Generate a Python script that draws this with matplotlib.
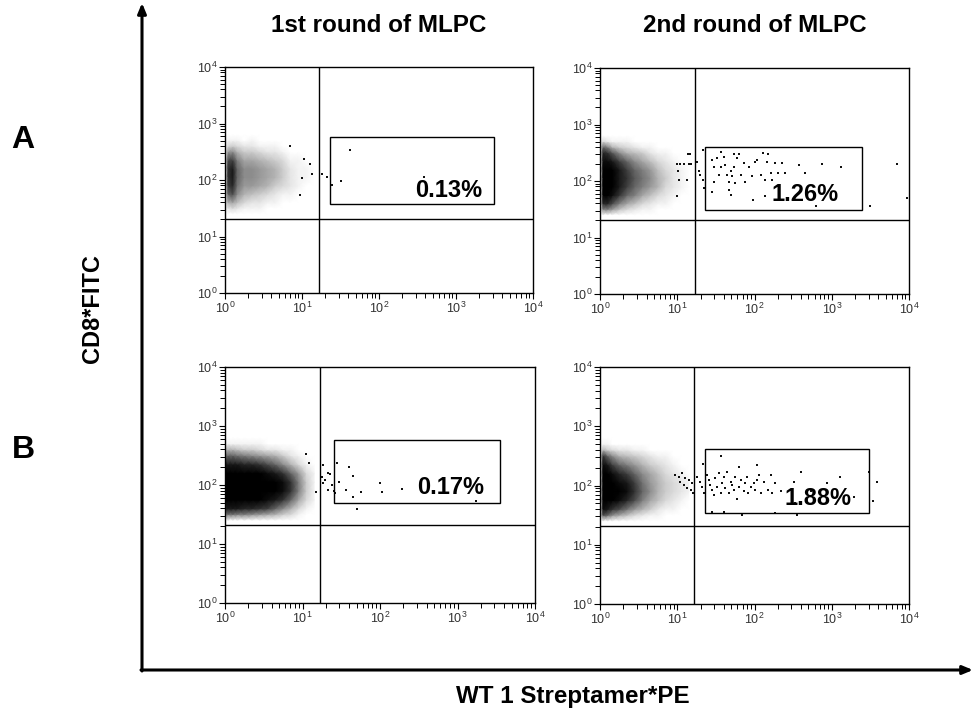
import numpy as np
import matplotlib.pyplot as plt
from matplotlib.patches import Rectangle
from matplotlib.ticker import LogLocator, LogFormatterSciNotation, NullFormatter

plt.rcParams['font.family'] = ['Liberation Sans', 'DejaVu Sans']

# ---- data (all positions in log10 units of the flow channels) ----
col_titles = ["1st round of MLPC", "2nd round of MLPC"]
row_labels = ["A", "B"]
x_label = "WT 1 Streptamer*PE"
y_label = "CD8*FITC"
gate_pct = [["0.13%", "1.26%"], ["0.17%", "1.88%"]]

# quadrant marker lines
quad_x = [[1.22, 1.23], [1.23, 1.22]]
quad_y = [[1.31, 1.31], [1.32, 1.32]]
# gate boxes: x0, x1, y0, y1
gates = [[[1.36, 3.49, 1.575, 2.76], [1.36, 3.39, 1.49, 2.60]],
         [[1.41, 3.55, 1.69, 2.76], [1.36, 3.48, 1.54, 2.62]]]
# where the percentage sits (right end, baseline)
pct_pos = [[[3.34, 1.70], [3.09, 1.65]],
           [[3.34, 1.85], [3.26, 1.67]]]

# density of the main CD8+ population (0 = empty, 1 = solid black)
grid_x = [0.0, 0.04, 0.1, 0.16, 0.25, 0.35, 0.45, 0.55, 0.65, 0.75, 0.85, 0.95, 1.05, 1.15]
grid_y = [1.4, 1.5, 1.6, 1.75, 1.9, 2.05, 2.2, 2.35, 2.5, 2.6, 2.7, 2.8]

dens_a1 = [
    [0, 0, 0, 0, 0, 0, 0, 0, 0, 0, 0, 0, 0, 0],
    [0, .1, .15, .1, .05, .05, .05, 0, 0, 0, 0, 0, 0, 0],
    [0, .3, .35, .25, .15, .1, .1, .05, .05, 0, 0, 0, 0, 0],
    [0, .6, .7, .45, .3, .25, .2, .15, .1, .05, .05, 0, 0, 0],
    [0, .75, .85, .55, .4, .4, .35, .3, .2, .15, .1, .05, 0, 0],
    [0, .8, .9, .6, .45, .45, .4, .35, .3, .2, .1, .05, .05, 0],
    [0, .8, .9, .6, .45, .45, .4, .35, .3, .2, .1, .05, .05, 0],
    [0, .7, .75, .5, .35, .35, .3, .25, .2, .15, .05, .05, 0, 0],
    [0, .4, .45, .3, .2, .2, .15, .1, .1, .05, 0, 0, 0, 0],
    [0, .15, .2, .15, .1, .1, .05, .05, .05, 0, 0, 0, 0, 0],
    [0, .05, .05, .05, 0, .05, 0, 0, 0, 0, 0, 0, 0, 0],
    [0, 0, 0, 0, 0, 0, 0, 0, 0, 0, 0, 0, 0, 0],
]
dens_a2 = [
    [0, 0, 0, 0, 0, 0, 0, 0, 0, 0, 0, 0, 0, 0],
    [0, .5, .5, .4, .25, .15, .1, .05, .05, 0, 0, 0, 0, 0],
    [0, .85, .85, .7, .5, .35, .25, .15, .1, .05, .05, 0, 0, 0],
    [0, 1, 1, .95, .8, .6, .5, .35, .25, .15, .1, .05, 0, 0],
    [0, 1, 1, 1, .9, .75, .6, .5, .4, .3, .15, .1, .05, 0],
    [0, 1, 1, 1, .9, .8, .65, .55, .45, .3, .2, .1, .05, 0],
    [0, 1, 1, 1, .9, .75, .6, .5, .4, .25, .15, .1, .05, 0],
    [0, .95, .95, .9, .75, .6, .45, .35, .25, .15, .1, .05, 0, 0],
    [0, .85, .8, .65, .45, .3, .25, .2, .1, .05, .05, 0, 0, 0],
    [0, .6, .5, .3, .2, .15, .1, .05, .05, 0, 0, 0, 0, 0],
    [0, .15, .1, .05, .05, .05, 0, 0, 0, 0, 0, 0, 0, 0],
    [0, 0, 0, 0, 0, 0, 0, 0, 0, 0, 0, 0, 0, 0],
]
dens_b1 = [
    [0, 0, 0, 0, 0, 0, 0, 0, 0, 0, 0, 0, 0, 0],
    [.5, .55, .55, .5, .5, .45, .4, .35, .3, .2, .15, .05, 0, 0],
    [.85, .9, .9, .9, .85, .85, .8, .75, .6, .45, .3, .15, .05, 0],
    [1, 1, 1, 1, 1, 1, 1, .95, .9, .8, .6, .35, .15, .05],
    [1, 1, 1, 1, 1, 1, 1, 1, 1, .95, .8, .5, .2, .05],
    [1, 1, 1, 1, 1, 1, 1, 1, 1, .95, .8, .5, .2, .05],
    [1, 1, 1, 1, 1, 1, 1, .95, .9, .8, .6, .4, .15, .05],
    [.9, .9, .9, .9, .85, .85, .8, .7, .6, .45, .3, .15, .05, 0],
    [.55, .6, .6, .55, .5, .45, .4, .35, .3, .2, .1, .05, 0, 0],
    [.25, .3, .3, .25, .2, .2, .15, .1, .1, .05, .05, 0, 0, 0],
    [.05, .05, .05, .05, .05, .05, .05, 0, 0, 0, 0, 0, 0, 0],
    [0, 0, 0, 0, 0, 0, 0, 0, 0, 0, 0, 0, 0, 0],
]
dens_b2 = [
    [0, 0, 0, 0, 0, 0, 0, 0, 0, 0, 0, 0, 0, 0],
    [0, .7, .6, .45, .35, .25, .15, .1, .05, .05, 0, 0, 0, 0],
    [0, .95, .9, .8, .7, .55, .4, .3, .2, .1, .05, .05, 0, 0],
    [0, 1, 1, 1, .95, .85, .7, .5, .35, .25, .15, .1, .05, 0],
    [0, 1, 1, 1, 1, .95, .8, .6, .45, .3, .2, .15, .1, .05],
    [0, 1, 1, 1, .95, .9, .75, .55, .4, .3, .2, .15, .1, .05],
    [0, 1, 1, .95, .85, .75, .6, .45, .35, .25, .15, .1, .05, 0],
    [0, .95, .9, .75, .6, .5, .4, .3, .2, .15, .1, .05, 0, 0],
    [0, .8, .6, .45, .3, .25, .2, .15, .1, .05, .05, 0, 0, 0],
    [0, .3, .2, .15, .1, .1, .05, .05, 0, 0, 0, 0, 0, 0],
    [0, .05, .05, 0, 0, 0, 0, 0, 0, 0, 0, 0, 0, 0],
    [0, 0, 0, 0, 0, 0, 0, 0, 0, 0, 0, 0, 0, 0],
]

# single events outside the main population
tail_a1_x = [1.62, 1.51, 1.39, 1.325, 1.26, 1.13, 1.11, 2.59, 1.02, 0.97, 1.0, 0.85]
tail_a1_y = [2.53, 1.98, 1.92, 2.05, 2.10, 2.10, 2.28, 2.06, 2.37, 1.73, 2.04, 2.61]

tail_a2_x = [0.997, 1.04, 1.09, 1.15, 1.01, 1.02, 0.997, 1.13, 1.17, 1.14, 1.18, 1.26,
             1.28, 1.30, 1.33, 1.33, 1.34, 1.45, 1.47, 1.51, 1.56, 1.60, 1.48, 1.45,
             1.54, 1.57, 1.62, 1.64, 1.67, 1.69, 1.71, 1.73, 1.67, 1.69, 1.73, 1.77,
             1.75, 1.80, 1.82, 1.86, 1.88, 1.93, 1.97, 1.98, 2.01, 2.03, 2.08, 2.11,
             2.13, 2.16, 2.18, 2.21, 2.23, 2.27, 2.31, 2.36, 2.40, 2.57, 2.66, 2.79,
             2.87, 3.12, 3.50, 3.85, 3.97, 2.14]
tail_a2_y = [2.30, 2.30, 2.30, 2.30, 2.18, 2.02, 1.74, 2.02, 2.48, 2.47, 2.30, 2.33,
             2.17, 2.11, 2.54, 2.02, 1.87, 2.37, 2.25, 2.40, 2.52, 2.43, 1.99, 1.81,
             2.11, 2.25, 2.28, 2.11, 1.99, 2.17, 2.08, 2.25, 1.84, 1.75, 2.47, 2.40,
             1.96, 2.47, 2.11, 2.31, 1.99, 2.25, 2.08, 1.66, 2.34, 2.37, 2.11, 2.49,
             2.02, 2.34, 2.47, 2.14, 2.02, 2.31, 2.14, 2.31, 2.14, 2.28, 2.15, 1.55,
             2.30, 2.24, 1.55, 2.30, 1.70, 1.74]

tail_b1_x = [1.27, 1.33, 1.35, 1.25, 1.29, 1.27, 1.38, 1.45, 1.47, 1.33, 1.40, 1.42,
             1.56, 1.60, 1.65, 1.75, 1.65, 1.70, 2.00, 2.03, 2.28, 3.24, 1.04, 1.09, 1.18]
tail_b1_y = [2.34, 2.21, 2.18, 2.14, 2.08, 2.03, 2.00, 2.38, 2.05, 1.92, 1.89, 1.86,
             1.92, 2.30, 2.15, 1.88, 1.79, 1.59, 2.04, 1.88, 1.94, 1.73, 2.53, 2.37, 1.88]

tail_b2_x = [0.975, 1.02, 1.06, 1.10, 1.04, 1.09, 1.15, 1.13, 1.18, 1.21, 1.19, 1.26,
             1.30, 1.33, 1.32, 1.34, 1.39, 1.41, 1.43, 1.45, 1.47, 1.49, 1.51, 1.54,
             1.56, 1.58, 1.60, 1.62, 1.64, 1.67, 1.69, 1.71, 1.73, 1.75, 1.77, 1.80,
             1.80, 1.82, 1.86, 1.88, 1.90, 1.92, 1.95, 1.99, 2.01, 2.03, 2.06, 2.08,
             2.12, 2.17, 2.23, 2.27, 2.34, 2.51, 2.60, 2.53, 2.73, 2.94, 3.11, 3.29,
             3.53, 3.59, 3.48, 2.27, 1.84, 1.60, 1.45, 2.55, 1.56, 2.03, 2.21]
tail_b2_y = [2.18, 2.15, 2.21, 2.12, 2.06, 2.01, 2.09, 1.95, 1.92, 1.87, 2.04, 2.15,
             2.06, 2.37, 1.98, 1.87, 2.18, 2.09, 2.01, 1.92, 1.84, 2.12, 1.98, 2.21,
             1.87, 2.04, 2.15, 1.95, 2.23, 1.87, 2.06, 2.01, 1.92, 2.15, 1.78, 2.32,
             1.98, 2.09, 1.90, 2.04, 2.15, 1.87, 1.98, 2.04, 1.92, 2.09, 2.18, 1.87,
             2.06, 1.92, 1.87, 2.04, 1.90, 2.06, 2.23, 1.70, 1.90, 2.04, 2.14, 1.81,
             1.73, 2.06, 2.22, 1.53, 1.50, 1.56, 1.56, 1.50, 2.50, 2.35, 2.18]

dens = [[dens_a1, dens_a2], [dens_b1, dens_b2]]
tails = [[(tail_a1_x, tail_a1_y), (tail_a2_x, tail_a2_y)],
         [(tail_b1_x, tail_b1_y), (tail_b2_x, tail_b2_y)]]

# ---- layout (figure pixels: left, top, right, bottom) ----
W, H = 974, 711
panel_px = [[(225, 67, 533, 293), (600, 68, 909, 294)],
            [(225, 367, 535, 603), (600, 367, 909, 604)]]

fig = plt.figure(figsize=(W / 100, H / 100), dpi=100)

for r in range(2):
    for c in range(2):
        l, t, rr, b = panel_px[r][c]
        ax = fig.add_axes([l / W, 1 - b / H, (rr - l) / W, (b - t) / H])
        ax.set_xscale('log')
        ax.set_yscale('log')
        ax.set_xlim(1, 1e4)
        ax.set_ylim(1, 1e4)

        gx = 10 ** np.array(grid_x)
        gy = 10 ** np.array(grid_y)
        ax.pcolormesh(gx, gy, np.array(dens[r][c]), shading='gouraud',
                      cmap='gray_r', vmin=0, vmax=1, zorder=1)

        tx, ty = tails[r][c]
        ax.scatter(10 ** np.array(tx), 10 ** np.array(ty), s=2.2, marker='s',
                   color='#111111', linewidths=0, zorder=2)

        ax.axvline(10 ** quad_x[r][c], color='black', lw=1.0, zorder=3)
        ax.axhline(10 ** quad_y[r][c], color='black', lw=1.0, zorder=3)

        x0, x1, y0, y1 = gates[r][c]
        ax.add_patch(Rectangle((10 ** x0, 10 ** y0), 10 ** x1 - 10 ** x0,
                               10 ** y1 - 10 ** y0, fill=False,
                               edgecolor='black', lw=1.0, zorder=3))
        px, py = pct_pos[r][c]
        ax.text(10 ** px, 10 ** py, gate_pct[r][c], ha='right', va='baseline',
                fontsize=17, fontweight='bold', zorder=4)

        for axis in (ax.xaxis, ax.yaxis):
            axis.set_major_locator(LogLocator(base=10, numticks=10))
            axis.set_minor_locator(LogLocator(base=10, subs=np.arange(2, 10), numticks=10))
            axis.set_major_formatter(LogFormatterSciNotation())
            axis.set_minor_formatter(NullFormatter())
        ax.tick_params(which='major', direction='out', length=4, width=0.8,
                       labelsize=9, labelcolor='#333333', pad=1.5)
        ax.tick_params(which='minor', direction='out', length=3.5, width=0.7)
        for sp in ax.spines.values():
            sp.set_linewidth(1.0)

# column titles and row letters
for c, title in enumerate(col_titles):
    l, t, rr, b = panel_px[0][c]
    fig.text((l + rr) / 2 / W, 1 - 25 / H, title, ha='center', va='center',
             fontsize=17.5, fontweight='bold')
for r, lab in enumerate(row_labels):
    fig.text(23 / W, 1 - [140, 450][r] / H, lab, ha='center', va='center',
             fontsize=23, fontweight='bold')

fig.text(93 / W, 1 - 309 / H, y_label, rotation=90, ha='center', va='center',
         fontsize=17, fontweight='bold')
fig.text(573 / W, 1 - 697 / H, x_label, ha='center', va='center',
         fontsize=17.4, fontweight='bold')

# big L-shaped axis arrows
over = fig.add_axes([0, 0, 1, 1], zorder=-1)
over.set_xlim(0, W)
over.set_ylim(H, 0)
over.set_axis_off()
arrow = dict(arrowstyle='-|>,head_length=0.6,head_width=0.25', lw=2.2,
             color='black', shrinkA=0, shrinkB=0)
over.annotate('', xy=(142, 3), xytext=(142, 671), arrowprops=arrow)
over.annotate('', xy=(973, 670), xytext=(141, 670), arrowprops=arrow)

fig.savefig('out.png', dpi=100)
